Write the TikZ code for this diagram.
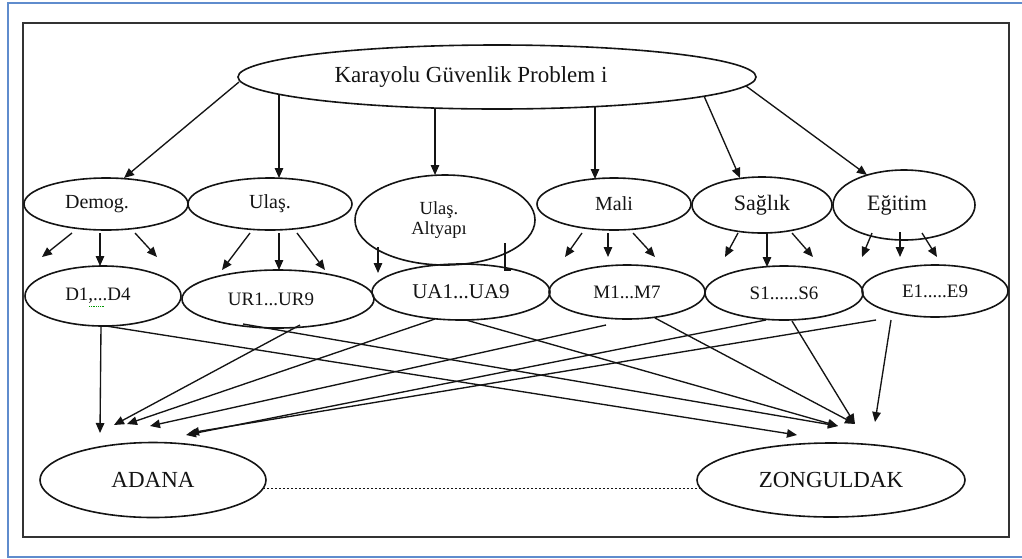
\documentclass[tikz,border=0pt]{standalone}
\usepackage{fontspec}
\setmainfont{Liberation Serif}
\usetikzlibrary{arrows.meta,shapes.geometric,calc}
\definecolor{frameblue}{RGB}{95,140,205}
\definecolor{ink}{RGB}{20,20,20}
\begin{document}
\begin{tikzpicture}[x=1pt,y=-1pt,
  ell/.style={draw=ink, line width=1.6pt, ellipse, inner sep=0pt, outer sep=0pt, text=ink},
  fA/.style={font=\fontsize{20}{22}\selectfont},
  fB/.style={font=\fontsize{19}{21}\selectfont},
  fC/.style={font=\fontsize{23}{25}\selectfont},
  conn/.style={draw=ink, line width=1.35pt, -{Triangle[length=10pt,width=8.5pt]}},
  plain/.style={draw=ink, line width=1.35pt}]
\useasboundingbox (0,0) rectangle (1022,558);
% frames
\draw[frameblue, line width=2pt] (1022,2.5) -- (7.5,2.5) -- (7.5,557) -- (1022,557);
\draw[black!80, line width=2pt] (23,23) rectangle (1009,537);

% top node
\node[ell, fC, minimum width=518pt, minimum height=64pt] (top) at (497,77) {\hspace*{-52pt}Karayolu Güvenlik Problem i};

% second row
\node[ell, fA, minimum width=164pt, minimum height=52pt] (dem) at (106,204) {\hspace*{-18pt}Demog.};
\node[ell, fA, minimum width=164pt, minimum height=52pt] (ula) at (270,204) {Ulaş.};
\node[ell, minimum width=180pt, minimum height=90pt, align=center, font=\fontsize{18.5}{20}\selectfont] (alt) at (445,220) {\hspace*{-12pt}Ulaş.\\\hspace*{-12pt}Altyapı};
\node[ell, fA, minimum width=154pt, minimum height=52pt] (mal) at (614,204) {Mali};
\node[ell, font=\fontsize{22}{24}\selectfont, minimum width=140pt, minimum height=56pt] (sag) at (762,205) {Sağlık};
\node[ell, font=\fontsize{22}{24}\selectfont, minimum width=142pt, minimum height=70pt] (egi) at (904,205) {\hspace*{-14pt}Eğitim};

% third row
\node[ell, fB, minimum width=156pt, minimum height=60pt] (d14) at (103,296) {\hspace*{-10pt}D1,...D4};
\node[ell, fB, minimum width=192pt, minimum height=58pt] (ur) at (278,299) {\hspace*{-14pt}UR1...UR9};
\node[ell, font=\fontsize{21}{23}\selectfont, minimum width=178pt, minimum height=56pt] (ua) at (461,292) {UA1...UA9};
\node[ell, fB, minimum width=156pt, minimum height=54pt] (m17) at (627,292) {M1...M7};
\node[ell, fB, minimum width=158pt, minimum height=54pt] (s16) at (784,293) {S1......S6};
\node[ell, fB, minimum width=146pt, minimum height=52pt] (e19) at (935,291) {E1.....E9};

% bottom
\node[ell, fC, minimum width=226pt, minimum height=75pt] (adana) at (153,480) {ADANA};
\node[ell, fC, minimum width=268pt, minimum height=74pt] (zong) at (831,480) {ZONGULDAK};

% spell-check squiggle
\draw[green!60!black, line width=0.8pt, densely dotted] (89,306) -- (104,306);

% top -> second row
\draw[conn] ($(top.center)+(-258,5)$) -- ($(dem.center)+(18,-26)$);
\draw[conn] ($(top.center)+(-218,17)$) -- ($(ula.center)+(9,-26)$);
\draw[conn] ($(top.center)+(-62,31)$) -- ($(alt.center)+(-10,-45)$);
\draw[conn] ($(top.center)+(98,30)$) -- ($(mal.center)+(-19,-25)$);
\draw[conn] ($(top.center)+(207,19)$) -- ($(sag.center)+(-22,-27)$);
\draw[conn] ($(top.center)+(249,9)$) -- ($(egi.center)+(-37,-30)$);

% free ends of the fan arrows
\coordinate (dl) at (42,257);
\coordinate (dr) at (157,257);
\coordinate (ul) at (222,270);
\coordinate (ur2) at (325,270);
\coordinate (al) at (378,273);
\coordinate (ar) at (505,270);
\coordinate (ml) at (565,257);
\coordinate (mc) at (608,257);
\coordinate (mr) at (655,257);
\coordinate (sl) at (725,257);
\coordinate (sr) at (813,257);
\coordinate (el) at (862,257);
\coordinate (ec) at (900,257);
\coordinate (er) at (937,257);

% second row -> third row fans
\draw[conn] ($(dem.center)+(-34,29)$) -- (dl);
\draw[conn] ($(dem.center)+(-6,29)$) -- ($(d14.center)+(-3,-30)$);
\draw[conn] ($(dem.center)+(29,29)$) -- (dr);
\draw[conn] ($(ula.center)+(-20,29)$) -- (ul);
\draw[conn] ($(ula.center)+(9,29)$) -- ($(ur.center)+(1,-29)$);
\draw[conn] ($(ula.center)+(27,29)$) -- (ur2);
\draw[conn] ($(alt.center)+(-67,27)$) -- (al);
\draw[plain] ($(alt.center)+(60,23)$) -- (ar) -- ++(6,0);
\draw[conn] ($(mal.center)+(-32,29)$) -- (ml);
\draw[conn] ($(mal.center)+(-6,29)$) -- (mc);
\draw[conn] ($(mal.center)+(19,29)$) -- (mr);
\draw[conn] ($(sag.center)+(-24,28)$) -- (sl);
\draw[conn] ($(sag.center)+(5,28)$) -- ($(s16.center)+(-17,-26)$);
\draw[conn] ($(sag.center)+(30,28)$) -- (sr);
\draw[conn] ($(egi.center)+(-32,28)$) -- (el);
\draw[conn] ($(egi.center)+(-4,27)$) -- (ec);
\draw[conn] ($(egi.center)+(18,28)$) -- (er);

% arrow tips above the cities
\coordinate (a1) at (100,433);
\coordinate (a2) at (114,425);
\coordinate (a3) at (127,424);
\coordinate (a4) at (150,426);
\coordinate (a5) at (186,435);
\coordinate (a6) at (189,433);
\coordinate (z1) at (797,435);
\coordinate (z2) at (838,426);
\coordinate (z3) at (855,424);
\coordinate (z4) at (875,422);

% third row -> cities
\draw[conn] ($(d14.center)+(-2,30)$) -- (a1);
\draw[conn] ($(d14.center)+(3,30)$) -- (z1);
\draw[conn] ($(ur.center)+(22,26)$) -- (a2);
\draw[conn] ($(ur.center)+(-35,25)$) -- (z2);
\draw[conn] ($(ua.center)+(-26,27)$) -- (a3);
\draw[conn] ($(ua.center)+(5,28)$) -- (z2);
\draw[conn] ($(m17.center)+(-21,33)$) -- (a4);
\draw[conn] ($(m17.center)+(28,26)$) -- (z3);
\draw[conn] ($(s16.center)+(-18,27)$) -- (a5);
\draw[conn] ($(s16.center)+(8,28)$) -- (z3);
\draw[conn] ($(e19.center)+(-59,29)$) -- (a6);
\draw[conn] ($(e19.center)+(-44,29)$) -- (z4);

% dotted link between cities
\draw[ink, line width=1pt, dash pattern=on 2pt off 2pt] ($(adana.center)+(110,8)$) -- ($(zong.center)+(-131,8)$);
\end{tikzpicture}
\end{document}
